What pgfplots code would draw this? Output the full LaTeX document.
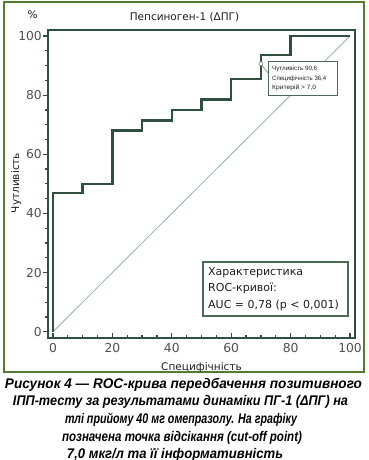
\documentclass[border=0pt]{standalone}
\usepackage{fontspec}
\usepackage{graphicx}
\setmainfont{DejaVu Sans}
\newfontfamily\capfont{Liberation Sans}
\usepackage{pgfplots}
\pgfplotsset{compat=1.18}
\definecolor{curvec}{HTML}{30503F}
\definecolor{diagc}{HTML}{8FB5A5}
\definecolor{framec}{HTML}{547C2E}
\definecolor{ticklab}{HTML}{505050}
\definecolor{boxc}{HTML}{4A6A55}
\definecolor{txt}{HTML}{1E1E1E}
\begin{document}
\begin{tikzpicture}[x=1pt,y=1pt]
\useasboundingbox (0,0) rectangle (369,-460);
\fill[white] (0,0) rectangle (369,-460);
\draw[framec, line width=1.4] (4,-2) rectangle (364,-372);
\begin{axis}[
  at={(48pt,-338pt)}, anchor=south west,
  scale only axis, width=307pt, height=308pt,
  xmin=-1.68, xmax=101.68, ymin=-2.13, ymax=102.03,
  axis line style={curvec, line width=2.7pt},
  xtick={0,20,...,100}, ytick={0,20,...,100},
  minor x tick num=3, minor y tick num=3,
  xtick pos=bottom, ytick pos=left,
  xtick align=inside, ytick align=outside,
  major tick length=5.5pt, minor tick length=3.5pt,
  every tick/.style={curvec, line width=1.2pt},
  tick label style={font=\fontsize{12.3}{14}\selectfont, text=ticklab},
  /pgf/number format/assume math mode=true,
  yticklabel style={inner sep=0.5pt},
  xticklabel style={yshift=-2pt},
  clip=false,
]
\addplot[diagc, line width=0.8pt] coordinates {(0,0) (100,100)};
\addplot[curvec, line width=2.5pt, line join=miter] coordinates {
(0,0) (0,46.9) (10,46.9) (10,50) (20,50) (20,68) (30,68) (30,71.5)
(40,71.5) (40,75) (50,75) (50,78.5) (60,78.5) (60,85.5) (70,85.5)
(70,93.5) (80,93.5) (80,100) (100,100)};
\draw[boxc!80, line width=0.6pt] (axis cs:70,90.6) -- (axis cs:72.4,87.5);
\addplot[only marks, mark=*, mark size=2pt, mark options={fill=white, draw=boxc!70, line width=0.6pt}] coordinates {(70,90.6)};
\end{axis}
% annotation box
\draw[boxc, line width=0.8, fill=white] (268,-61) rectangle (337,-95);
\begin{scope}[every node/.style={anchor=base west, inner sep=0, font=\capfont\fontsize{6.2}{7}\selectfont, text=txt}]
\node at (272,-70.5) {\resizebox{45pt}{\height}{Чутливість 90,6}};
\node at (272,-80) {\resizebox{54pt}{\height}{Специфічність 36,4}};
\node at (272,-89.5) {\resizebox{44pt}{\height}{Критерій > 7,0}};
\end{scope}
% AUC box
\draw[boxc, line width=1.1, fill=white] (203,-262) rectangle (348,-316);
\begin{scope}[every node/.style={anchor=base west, inner sep=0, font=\fontsize{11}{13}\selectfont, text=txt}]
\node at (208,-275) {Характеристика};
\node at (208,-291.5) {ROC-кривої:};
\node at (208,-308.5) {AUC = 0,78 (p < 0,001)};
\end{scope}
% titles
\node[anchor=base, inner sep=0, font=\fontsize{10.5}{12}\selectfont, text=txt] at (184.5,-20.7) {Пепсиноген-1 (ΔПГ)};
\node[anchor=base, inner sep=0, font=\fontsize{10.5}{12}\selectfont, text=txt] at (32.7,-19) {\%};
\node[anchor=base, inner sep=0, font=\fontsize{10.5}{12}\selectfont, text=txt] at (201.5,-370.5) {Специфічність};
\node[rotate=90, anchor=base, inner sep=0, font=\fontsize{10.5}{12}\selectfont, text=txt] at (19,-183) {Чутливість};
% caption
\begin{scope}[every node/.style={anchor=base, inner sep=0, font=\capfont\bfseries\itshape\fontsize{14}{16}\selectfont, text=black}]
\node at (183.5,-388.3) {\resizebox{357pt}{\height}{Рисунок 4 — ROC-крива передбачення позитивного}};
\node at (180.5,-405.9) {\resizebox{335pt}{\height}{ІПП-тесту за результатами динаміки ПГ-1 (ΔПГ) на}};
\node at (181,-423.5) {\resizebox{232pt}{\height}{тлі прийому 40 мг омепразолу. На графіку}};
\node at (182,-441.1) {\resizebox{240pt}{\height}{позначена точка відсікання (cut-off point)}};
\node at (175,-458.2) {\resizebox{216pt}{\height}{7,0 мкг/л та її інформативність}};
\end{scope}
\end{tikzpicture}
\end{document}
